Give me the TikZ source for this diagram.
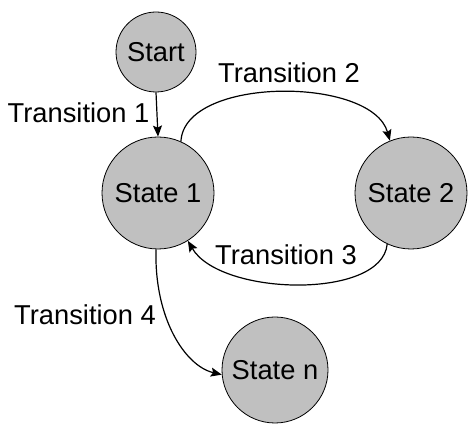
\documentclass[tikz,border=0pt]{standalone}
\usepackage{fontspec}
\setmainfont{Liberation Sans}
\usetikzlibrary{arrows.meta}
\begin{document}
\begin{tikzpicture}[x=1pt,y=1pt,
  state/.style={circle,draw=black,line width=0.8pt,fill={rgb,255:red,192;green,192;blue,192},inner sep=0pt,font=\fontsize{27.3}{30}\selectfont},
  lbl/.style={font=\fontsize{27.3}{30}\selectfont,inner sep=0pt},
  trans/.style={line width=1.2pt,-{Stealth[length=11pt,width=9pt,inset=2pt]}}]
\useasboundingbox (0,0) rectangle (471,428);
\node[state,minimum size=80pt] (start) at (156,376) {Start};
\node[state,minimum size=112pt] (s1) at (158,235) {State 1};
\node[state,minimum size=112pt] (s2) at (411,235) {State 2};
\node[state,minimum size=106pt] (sn) at (275,58) {State n};
\draw[trans] (start.south) -- (s1.north);
\draw[trans] (s1.66) .. controls (184,352) and (372,352) .. (s2.112);
\draw[trans] (s2.-115) .. controls (382,128) and (220,132) .. (s1.-58);
\draw[trans] (s1.268) .. controls (154,110) and (185,62) .. (sn.185);
\node[lbl] (l1) at (78.5,315) {Transition 1};
\node[lbl] (l2) at (289,355) {Transition 2};
\node[lbl] (l3) at (286,173) {Transition 3};
\node[lbl] (l4) at (85,113) {Transition 4};
\end{tikzpicture}
\end{document}
